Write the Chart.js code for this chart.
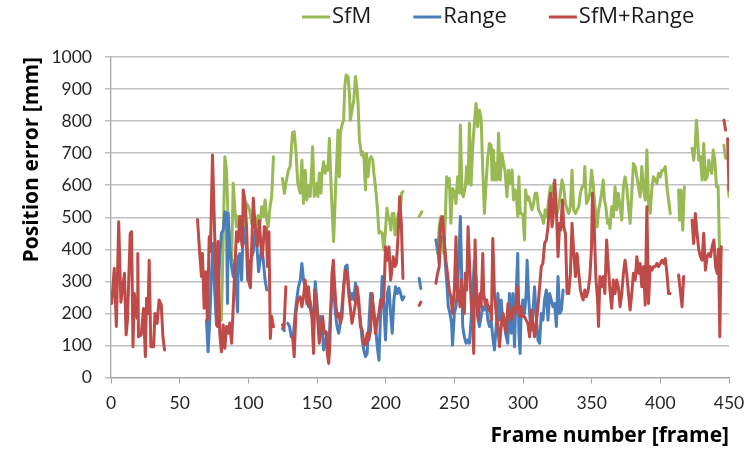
<!DOCTYPE html>
<html>
<head>
<meta charset="utf-8">
<script src="https://cdn.jsdelivr.net/npm/chart.js@4.4.1/dist/chart.umd.min.js"></script>
<style>
html,body{margin:0;padding:0;background:#fff;}
#wrap{width:756px;height:452px;position:relative;}
</style>
</head>
<body>
<div id="wrap"><canvas id="c" width="756" height="452"></canvas></div>
<script>
// ---- data: [frame, position error (mm)], null = no estimate ----
const seriesNames = ['SfM', 'Range', 'SfM+Range'];
const xTicks = [0, 50, 100, 150, 200, 250, 300, 350, 400, 450];
const yTicks = [0, 100, 200, 300, 400, 500, 600, 700, 800, 900, 1000];

const sfm = [
[80.4,179],[81.7,430],[82.9,689],[84.1,647],[85.3,491],[86.5,408],[87.8,366],[89,606],[90.2,523],[91.4,470],[92.6,502],[93.9,481],[95.1,502],[96.3,470],[97.5,491],[98.7,543],[100,533],[101,520],[102.5,480],[104,500],[105.5,470],[107,505],[108.5,481],[109.7,533],[110.9,502],[112.2,554],[113.4,491],[114.5,471],[115.8,533],[117,564],[118.3,689],[121,null],
[124.8,621],[126.3,575],[127.3,606],[129.2,647],[130.4,658],[132.2,764],[133.4,767],[134.6,710],[136,606],[137.8,575],[139,678],[140.2,543],[141.4,647],[142.6,554],[143.8,600],[145,565],[146.3,668],[146.8,720],[148,565],[148.7,575],[150,606],[150.7,565],[151.7,637],[152.9,575],[153.6,637],[154.8,673],[156,637],[156.8,658],[158,647],[159,746],[160,626],[161,523],[162.1,424],[163.4,575],[164.6,699],[165.3,772],[166.3,626],[167,762],[168.2,788],[169.4,803],[170.2,907],[171.2,944],[172.6,939],[173.6,886],[174.3,803],[175.5,834],[176.8,866],[178,939],[179.2,897],[179.9,855],[180.9,741],[182.4,694],[183.3,704],[184.3,678],[185.3,585],[186,699],[187.2,626],[188.2,678],[189.4,689],[190.6,678],[191.4,637],[192.6,595],[193.9,533],[195.1,450],[196.3,455],[197.5,450],[198.7,398],[199.9,460],[200.9,528],[201.9,502],[202.9,491],[203.8,460],[204.8,512],[206,512],[206.8,445],[208,481],[209.2,512],[210.4,502],[211.6,575],[212.6,580],[218,null],
[224.4,502],[226.3,517],[231,null],
[236.6,429],[237.8,387],[239,471],[240.2,502],[241.4,450],[242.3,387],[243.4,491],[244.4,626],[245.6,595],[246.3,621],[247.5,481],[248.7,590],[250,580],[251.2,543],[252.4,626],[253.6,575],[254.4,788],[255.6,575],[256.6,564],[258,595],[259,658],[260,606],[261,793],[262.2,600],[263.4,720],[264.6,793],[265.8,855],[267,783],[268.3,834],[269.5,808],[270.7,647],[271.9,512],[273.1,606],[274.4,689],[275.6,730],[276.8,725],[277.5,616],[278.5,710],[279.2,616],[280.5,668],[281.2,616],[282.2,762],[283.4,616],[284.6,699],[285.8,668],[287,642],[288.3,564],[289.5,647],[290.7,606],[292.1,647],[293.1,554],[294.3,585],[295,575],[296.2,502],[297,626],[298,512],[299.2,512],[300,502],[301.1,429],[301.9,585],[302.9,554],[304,564],[305.3,543],[306.5,523],[307.7,543],[308.9,575],[310.1,575],[311.3,523],[312.6,512],[313.8,502],[315,481],[316.2,523],[317.4,502],[318.7,554],[319.9,595],[321.1,575],[322.3,606],[323.5,512],[324.8,512],[326,533],[327.2,575],[328.4,616],[329.6,595],[330.9,543],[332.1,523],[333.3,512],[334.5,533],[335.7,647],[336.9,523],[338.2,512],[339.4,523],[340.6,533],[341.8,575],[343,595],[344.3,595],[345,658],[346.2,543],[347.5,554],[348.7,575],[349.9,647],[351.1,606],[351.8,564],[353,502],[354,470],[355,523],[356,543],[357.2,575],[358.4,616],[359.3,554],[360.3,533],[361.6,481],[362.8,491],[363.3,465],[364.6,533],[365.8,502],[367,595],[368.2,523],[369.4,575],[370.7,533],[371.9,491],[373.1,595],[374.3,626],[375.5,595],[376.8,533],[378,481],[379.2,575],[380.4,668],[381.7,658],[382.9,626],[384.1,595],[385.3,564],[386.5,658],[387.8,585],[389,554],[390.2,710],[391.4,543],[392.6,512],[393.9,595],[395.1,626],[396.3,616],[397.5,606],[398.7,637],[400,626],[401.2,647],[402.4,647],[403.6,658],[404.8,595],[406,554],[407.2,512],[410,null],
[413.3,585],[414,491],[415,585],[416.3,460],[417.5,595],[420,null],
[423.1,715],[424.3,678],[425.5,730],[426.3,803],[427.3,741],[428,678],[429.2,689],[430.4,616],[431.6,730],[432.8,616],[434.1,626],[435.3,678],[436.5,647],[437.5,637],[438.5,710],[439.7,678],[440.9,595],[442.1,595],[443.3,356],[444.3,408],[445.3,null],
[446.3,725],[447.5,684],[448.4,null],
[449.3,600],[450,565]
];

const range = [
[69.5,179],[70.7,80],[71.9,179],[73.1,315],[74.3,418],[75.6,262],[76.8,164],[78,262],[79.2,377],[80.4,450],[81.7,460],[82.9,517],[84.1,512],[84.8,231],[85.3,512],[86.5,408],[87.8,346],[89,315],[90.2,366],[91.4,262],[92.2,205],[92.6,377],[93.9,387],[95.1,304],[96.3,470],[97.5,429],[98.7,408],[99.5,304],[101,355],[103.6,393],[104.8,455],[106,420],[107.5,330],[109.7,408],[110.9,366],[112.2,304],[113.4,273],[119,null],
[124.8,153],[126.3,146],[127.5,null],
[128.7,169],[130,160],[131.2,127],[132.9,138],[134.6,221],[136.5,283],[137.8,304],[139,356],[140.2,304],[141.4,283],[142.6,262],[143.8,221],[145,240],[146.3,200],[147.5,138],[148.7,299],[149.9,240],[151.2,138],[152.4,190],[153.6,159],[154.8,86],[156,107],[157.2,138],[158.4,75],[159.7,190],[160.9,262],[162.1,283],[163.4,200],[164.6,159],[165.8,138],[167,169],[168.2,221],[169.4,283],[170.7,346],[171.9,351],[173.1,283],[174.3,242],[175.5,262],[176.8,242],[178,294],[179.2,273],[180.4,221],[181.6,179],[182.9,117],[184.1,86],[185.3,65],[186.5,75],[187.7,159],[189,262],[190.2,242],[191.4,210],[192.6,159],[193.9,96],[195.1,54],[196.3,200],[197.5,315],[198.7,221],[199.9,117],[201.2,262],[202.4,283],[203.6,200],[204.8,138],[206,242],[207.2,283],[208.5,262],[209.7,278],[210.9,262],[212.1,242],[213.4,252],[218,null],
[224.4,309],[225.6,278],[230,null],
[236.6,429],[237.8,408],[239,356],[240.2,439],[241.4,439],[242.6,439],[243.4,356],[244.4,304],[245.6,221],[246.8,200],[248,169],[248.7,101],[250,200],[251.2,221],[252.4,273],[253.6,408],[254.4,502],[255.1,366],[256.1,159],[257.3,127],[258.5,107],[259.7,117],[261,107],[262.2,179],[263.4,262],[264.6,366],[265.8,304],[267,190],[268.3,159],[269.5,190],[270.7,221],[271.9,211],[273.1,242],[274.4,179],[275.6,159],[276.8,179],[278,127],[279.2,86],[280.5,159],[281.7,262],[282.9,179],[284.1,242],[285.3,169],[286.6,159],[287.3,138],[288.9,107],[290.1,262],[291.4,138],[292.6,262],[293.8,96],[295,262],[296.2,387],[297,138],[297.9,75],[298.6,200],[299.9,242],[301.1,200],[302.3,262],[303,366],[304.2,242],[305.2,179],[306,148],[307.2,200],[308.4,283],[309.6,190],[310.9,117],[312.1,107],[313.3,200],[314.5,179],[315.7,242],[317,273],[318.2,179],[319.4,262],[320.6,242],[321.8,221],[323.1,231],[324.3,159],[325.5,315],[326.7,200],[328,210],[329.2,273]
];

const sfmRange = [
[0.5,231],[2.4,341],[3.9,159],[5.6,486],[7.2,235],[9.8,325],[11,133],[12,180],[14,450],[15,455],[16,96],[17,262],[18,220],[19,185],[19.5,387],[20,127],[22,133],[23.7,215],[25,65],[25.9,247],[27,200],[27.8,366],[29,96],[31,96],[32,200],[33.6,169],[35,242],[36.6,226],[37.8,127],[39,86],[50,null],
[63,493],[64.6,387],[65.9,315],[66.6,387],[67.8,216],[69,330],[70.2,179],[71.5,439],[72.4,393],[73.9,694],[75.6,429],[76.5,300],[77.5,159],[78,424],[79.2,138],[80.4,80],[81.7,164],[82.9,91],[84.1,159],[85.3,138],[86.5,170],[87.8,107],[89,221],[90.2,346],[91.4,455],[92.6,424],[93.9,502],[94.6,440],[95.6,408],[96.3,585],[97.5,554],[98.7,470],[100,304],[101.5,280],[103.6,559],[104.8,481],[106.5,410],[108,490],[109.2,408],[110.2,375],[111.7,471],[113,466],[114,346],[115,455],[116,122],[117,190],[118.3,159],[121,null],
[124.8,164],[126,154],[127.3,283],[129.5,null],
[132.2,127],[133.4,65],[134.6,200],[136,242],[137.8,252],[139,221],[140.2,252],[141.4,304],[142.6,230],[143.8,283],[145,216],[146.3,190],[147.5,75],[148.2,273],[149.5,240],[150.7,179],[151.6,107],[153,159],[154.1,190],[155.3,138],[156.5,143],[157.5,75],[158.5,44],[159.3,96],[160,210],[160.9,325],[161.9,366],[162.9,283],[163.9,221],[164.8,190],[165.8,200],[167,169],[168.2,190],[169.4,283],[170.7,335],[171.9,325],[173.1,262],[174.3,216],[175.5,169],[176.8,200],[178,231],[179.2,283],[180.4,242],[181.6,159],[182.9,148],[184.1,107],[185.3,101],[186.5,138],[187.7,117],[189,148],[190.2,262],[191.4,190],[192.6,138],[193.9,179],[195.1,200],[196.3,242],[197.5,221],[198.7,252],[199.9,408],[201.2,366],[202.4,408],[203.6,304],[204.3,325],[205.5,377],[206.8,346],[207.8,356],[209,439],[210.2,564],[211.4,480],[212.6,309],[218,null],
[224.4,225],[225.6,235],[230,null],
[236.6,294],[237.8,325],[239,346],[239.7,470],[240.6,496],[241.4,502],[242.6,429],[243.8,366],[245,325],[246.3,273],[247.5,252],[248.7,200],[250,273],[251.2,439],[252.4,242],[253.1,273],[254.1,221],[255.1,304],[256.1,242],[257.3,200],[258,325],[259,273],[260,470],[261,366],[262.2,242],[263.4,169],[264.1,75],[265.1,429],[265.8,315],[266.6,231],[267.5,179],[268.8,262],[269.5,221],[270.7,387],[271.4,262],[272.4,231],[273.6,242],[274.8,210],[276,221],[277,179],[278,434],[279.2,262],[280.5,200],[281.7,159],[282.9,96],[284.1,159],[285.3,200],[286.6,179],[287.8,140],[289,230],[290.1,200],[291.4,180],[292.6,220],[293.8,200],[295,220],[296.2,283],[297.4,190],[298.6,221],[299.9,190],[301.1,190],[302.3,179],[303.5,169],[304.8,127],[306,210],[307.2,169],[308.4,127],[309.6,169],[310.9,221],[312.1,283],[313.3,346],[314.5,356],[315.7,418],[317,429],[318.2,470],[319.4,554],[320.1,575],[321.1,470],[321.8,491],[323.1,616],[324.3,522],[325.5,377],[326.7,481],[327.5,460],[328.7,554],[329.7,470],[330.9,450],[332.1,262],[333.3,262],[334.5,325],[335.7,481],[337,387],[338.2,315],[339.4,387],[340.6,325],[341.8,273],[343,252],[343.8,242],[345,273],[346.2,252],[347.5,273],[348.7,315],[349.9,408],[350.6,575],[351.8,481],[353,315],[354.3,242],[355,159],[356,315],[357.2,283],[358.4,315],[359.6,262],[360.9,429],[362.1,346],[363.3,273],[364.6,216],[365.8,304],[367,262],[368.2,304],[369.4,283],[370.7,221],[371.9,262],[373.1,325],[374.3,366],[375.5,325],[376.8,262],[378,211],[379.2,262],[380.4,325],[381.7,304],[382.9,377],[384.1,325],[385.3,356],[386.5,283],[387.8,346],[389,226],[390.2,533],[391.4,231],[392.6,346],[393.9,335],[395.1,346],[396.3,346],[397.5,356],[398.7,346],[400,356],[401.2,366],[402.4,356],[403.6,371],[404.8,325],[406,262],[407.2,262],[410,null],
[413.3,320],[414.5,273],[415.8,221],[417,315],[420,null],
[423.1,491],[424.3,418],[425.5,512],[426.7,450],[428,398],[429.2,377],[430.4,366],[431.6,450],[432.8,335],[434.1,377],[435.3,387],[436.5,377],[437.7,408],[439,429],[440.2,346],[441.4,325],[442.3,400],[443.3,127],[444.3,408],[445.3,null],
[446.3,803],[447.5,772],[448.3,null],
[449,745],[449.6,650],[450,585]
];

const seriesColors = ['#98B954', '#4A7EBB', '#BE4B48'];
const seriesData = [sfm, range, sfmRange];

const toPoints = arr => arr.map(p => ({x: p[0], y: p[1]}));

const FONT = '"Open Sans"';
const TICKFONT = 'Lato';

const customLegend = {
  id: 'customLegend',
  afterDraw(chart) {
    const ctx = chart.ctx;
    ctx.save();
    ctx.font = '22px ' + FONT;
    ctx.textBaseline = 'middle';
    ctx.textAlign = 'left';
    let x = 302;
    const y = 17;
    chart.data.datasets.forEach(ds => {
      ctx.strokeStyle = ds.borderColor;
      ctx.lineWidth = 3;
      ctx.beginPath();
      ctx.moveTo(x, y);
      ctx.lineTo(x + 28, y);
      ctx.stroke();
      x += 30;
      ctx.fillStyle = '#1a1a1a';
      ctx.fillText(ds.label, x, y);
      x += ctx.measureText(ds.label).width + 42;
    });
    ctx.restore();
  }
};

new Chart(document.getElementById('c'), {
  type: 'line',
  data: {
    datasets: seriesNames.map((name, i) => ({
      label: name,
      data: toPoints(seriesData[i]),
      borderColor: seriesColors[i],
      backgroundColor: seriesColors[i],
      borderWidth: 3,
      pointRadius: 0,
      pointHoverRadius: 0,
      tension: 0,
      spanGaps: false,
      fill: false,
      borderJoinStyle: 'round',
      borderCapStyle: 'round',
      order: 2 - i
    }))
  },
  options: {
    responsive: false,
    animation: false,
    devicePixelRatio: 1,
    events: [],
    layout: { padding: { top: 57, right: 27, bottom: 0, left: 0 } },
    plugins: {
      legend: { display: false },
      tooltip: { enabled: false },
      title: { display: false }
    },
    scales: {
      x: {
        type: 'linear',
        min: 0, max: 450,
        afterBuildTicks: s => { s.ticks = xTicks.map(v => ({value: v})); },
        afterFit: s => { s.height = 74.5; },
        ticks: { color: '#262626', font: { family: TICKFONT, size: 17.5 }, padding: 9, maxRotation: 0, autoSkip: false, callback: v => String(v) },
        grid: { display: true, drawOnChartArea: false, drawTicks: true, tickLength: 6, color: '#A6A6A6', lineWidth: 1 },
        border: { display: true, color: '#A6A6A6', width: 1.3 },
        title: { display: true, text: 'Frame number [frame]', align: 'end', color: '#000', font: { family: FONT, size: 21, weight: 'bold' }, padding: { top: 0, bottom: 3 } }
      },
      y: {
        type: 'linear',
        min: 0, max: 1000,
        afterBuildTicks: s => { s.ticks = yTicks.map(v => ({value: v})); },
        afterFit: s => { s.width = 111; },
        ticks: { color: '#262626', font: { family: TICKFONT, size: 17.5 }, padding: 13, callback: v => String(v) },
        grid: { display: true, drawOnChartArea: true, drawTicks: true, tickLength: 6, color: '#BFBFBF', lineWidth: 1.5 },
        border: { display: true, color: '#A6A6A6', width: 1.3 },
        title: { display: true, text: 'Position error [mm]', align: 'end', color: '#000', font: { family: FONT, size: 21, weight: 'bold' }, padding: { top: 19, bottom: 0 } }
      }
    }
  },
  plugins: [customLegend]
});
</script>
</body>
</html>
